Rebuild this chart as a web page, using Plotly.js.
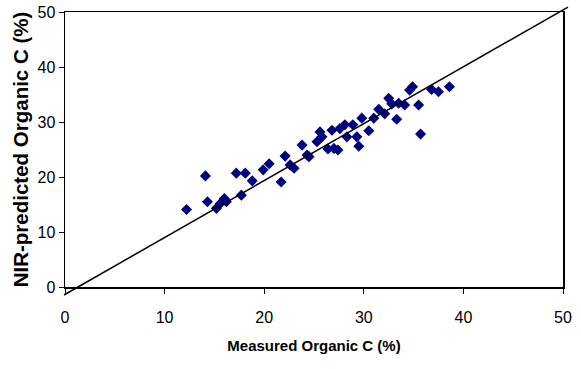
<!DOCTYPE html>
<html>
<head>
<meta charset="utf-8">
<script src="https://cdn.plot.ly/plotly-3.0.1.min.js"></script>
<style>html,body{margin:0;padding:0;background:#fff;}#chart{width:581px;height:369px;}</style>
</head>
<body>
<div id="chart"></div>
<script>
// Measured organic C (%)
const measured = [12.2, 14.1, 14.3, 15.2, 15.6, 16.0, 16.2, 17.2, 18.1, 17.7,
  18.8, 19.9, 20.5, 21.7, 22.1, 22.6, 23.0, 23.8, 24.3, 24.5,
  25.3, 25.6, 25.8, 26.4, 26.8, 27.0, 27.4, 27.6, 28.1, 28.3,
  28.9, 29.3, 29.5, 29.8, 30.5, 31.0, 31.5, 32.1, 32.5, 32.8,
  33.3, 33.5, 34.1, 34.6, 34.9, 35.5, 35.7, 36.8, 37.5, 38.6];
// NIR-predicted organic C (%)
const predicted = [14.1, 20.2, 15.5, 14.3, 15.2, 16.1, 15.5, 20.7, 20.7, 16.7,
  19.3, 21.3, 22.4, 19.1, 23.8, 22.2, 21.6, 25.8, 24.0, 23.7,
  26.4, 28.2, 27.3, 25.1, 28.5, 25.2, 24.9, 28.8, 29.5, 27.3,
  29.5, 27.3, 25.6, 30.7, 28.4, 30.7, 32.3, 31.5, 34.3, 33.3,
  30.5, 33.4, 33.1, 35.8, 36.4, 33.1, 27.8, 35.9, 35.5, 36.4];
// Fitted line end points
const fitX = [-0.1, 50.5];
const fitY = [-1.45, 50.9];

const xTicks = [0, 10, 20, 30, 40, 50];
const yTicks = [0, 10, 20, 30, 40, 50];
const axisRange = [0, 50];

const font = 'Arial, "Liberation Sans", sans-serif';

// page layout (pixels)
const W = 581, H = 369;
const M = {l: 50, r: 8, t: 2, b: 72};
const box = {left: 65, right: 563, top: 12, bottom: 287};
const areaW = W - M.l - M.r, areaH = H - M.t - M.b;
const xDom = [(box.left - M.l) / areaW, (box.right - M.l) / areaW];
const yDom = [(H - M.b - box.bottom) / areaH, (H - M.b - box.top) / areaH];
// the overlay axes span the whole area with the same scale, so the fitted line may run past the frame
const xSpan = axisRange[1] - axisRange[0], ySpan = axisRange[1] - axisRange[0];
const x2Range = [axisRange[0] - xSpan * xDom[0] / (xDom[1] - xDom[0]),
                 axisRange[1] + xSpan * (1 - xDom[1]) / (xDom[1] - xDom[0])];
const y2Range = [axisRange[0] - ySpan * yDom[0] / (yDom[1] - yDom[0]),
                 axisRange[1] + ySpan * (1 - yDom[1]) / (yDom[1] - yDom[0])];

const traces = [
  {
    x: fitX, y: fitY, xaxis: 'x2', yaxis: 'y2', type: 'scatter', mode: 'lines',
    line: {color: '#000000', width: 1.5},
    hoverinfo: 'skip', showlegend: false
  },
  {
    x: measured, y: predicted, type: 'scatter', mode: 'markers',
    marker: {symbol: 'diamond', size: 8.5, color: '#000080', line: {width: 0}},
    cliponaxis: false, showlegend: false
  }
];

const layout = {
  width: W, height: H,
  margin: M,
  paper_bgcolor: '#ffffff', plot_bgcolor: 'rgba(0,0,0,0)',
  font: {family: font, color: '#000000', size: 16},
  showlegend: false,
  xaxis: {
    domain: xDom, anchor: 'y',
    range: axisRange, tickvals: xTicks, ticktext: xTicks.map(String),
    showgrid: false, zeroline: false,
    showline: true, linecolor: '#000000', linewidth: 1.5, mirror: true,
    ticks: 'outside', ticklen: 5, tickwidth: 1, tickcolor: '#000000',
    ticklabelstandoff: 10,
    tickfont: {family: font, size: 16, color: '#000000'},
    title: {text: '<b>Measured Organic C (%)</b>', font: {family: font, size: 15, color: '#000000'}, standoff: 16}
  },
  yaxis: {
    domain: yDom, anchor: 'x',
    range: axisRange, tickvals: yTicks, ticktext: yTicks.map(String),
    showgrid: false, zeroline: false,
    showline: true, linecolor: '#000000', linewidth: 1.5, mirror: true,
    ticks: 'outside', ticklen: 5, tickwidth: 1, tickcolor: '#000000',
    tickfont: {family: font, size: 16, color: '#000000'},
    title: {text: '<b>NIR-predicted Organic C (%)</b>', font: {family: font, size: 20.5, color: '#000000'}, standoff: 3}
  },
  xaxis2: {domain: [0, 1], anchor: 'y2', range: x2Range, visible: false, fixedrange: true},
  yaxis2: {domain: [0, 1], anchor: 'x2', range: y2Range, visible: false, fixedrange: true}
};

Plotly.newPlot('chart', traces, layout, {staticPlot: true, displayModeBar: false});
</script>
</body>
</html>
